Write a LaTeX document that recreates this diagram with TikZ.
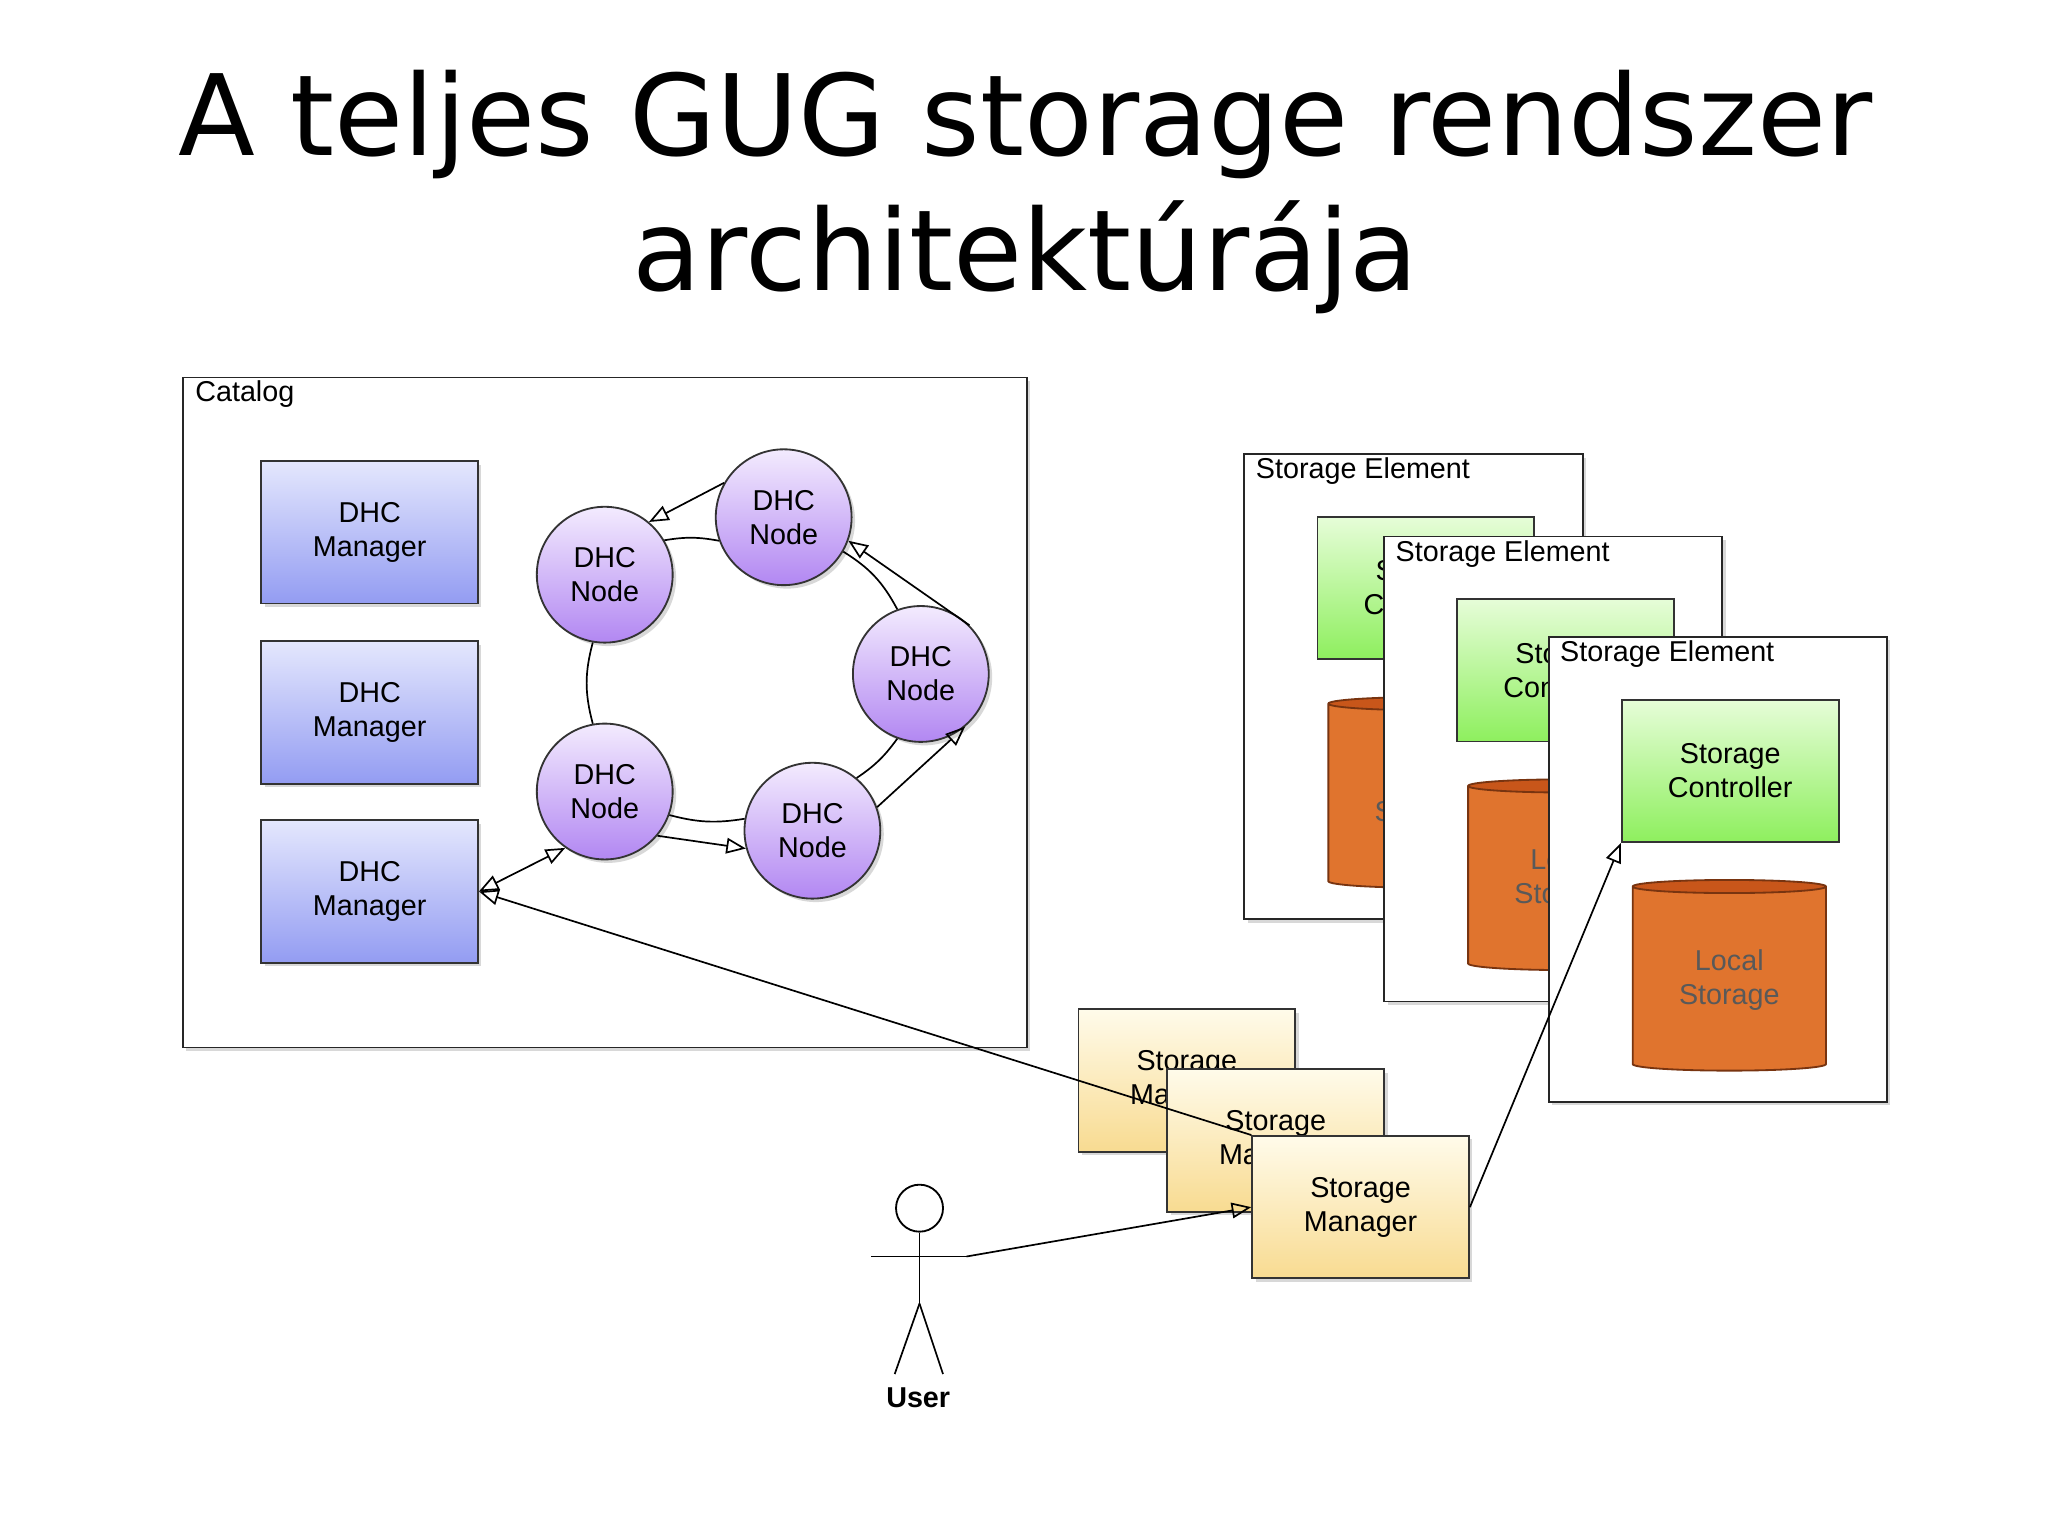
\documentclass[tikz,border=0pt]{standalone}
\usepackage{fontspec}
\setmainfont{Liberation Sans}
\newfontfamily\titlefont{DejaVu Sans}
\usetikzlibrary{arrows.meta,shapes.geometric,shadows}
\definecolor{mgrA}{HTML}{E4E7FD}\definecolor{mgrB}{HTML}{939CF2}
\definecolor{nodA}{HTML}{F3EBFE}\definecolor{nodB}{HTML}{B287F2}
\definecolor{ctlA}{HTML}{E6FDD8}\definecolor{ctlB}{HTML}{8EEF5E}
\definecolor{smA}{HTML}{FFFBEA}\definecolor{smB}{HTML}{F8DB91}
\definecolor{cylA}{HTML}{C8561A}\definecolor{cylB}{HTML}{E0742E}
\tikzset{
 lbl/.style={font=\fontsize{22}{26}\selectfont, align=center},
 mgr/.style={lbl, draw=black!80, line width=1.4pt, minimum width=166pt, minimum height=109pt, top color=mgrA, bottom color=mgrB, drop shadow={opacity=0.3}},
 dhc/.style={lbl, circle, draw=black!80, line width=1.4pt, minimum size=104pt, inner sep=0pt, top color=nodA, bottom color=nodB, drop shadow={opacity=0.3}},
 ctl/.style={lbl, draw=black!80, line width=1.4pt, minimum width=166pt, minimum height=109pt, top color=ctlA, bottom color=ctlB},
 sm/.style={lbl, draw=black!80, line width=1.4pt, minimum width=166pt, minimum height=109pt, top color=smA, bottom color=smB, drop shadow={opacity=0.3}},
 sebox/.style={draw=black!85, line width=1.4pt, fill=white, minimum width=259pt, minimum height=356pt, drop shadow={opacity=0.3}},
 cyl/.style={lbl, cylinder, shape border rotate=90, draw=cylA!60!black, line width=1.4pt, minimum width=148pt, minimum height=146pt, aspect=0.12, cylinder uses custom fill, cylinder body fill=cylB, cylinder end fill=cylA, text=black!65},
 conn/.style={line width=1.3pt},
 tip/.style={-{Triangle[open,length=15pt,width=12pt]}},
}
\begin{document}
\begin{tikzpicture}[x=1pt,y=-1pt]
\useasboundingbox[fill=white] (0,0) rectangle (1568,1175);
\node[font=\titlefont\fontsize{86}{102}\selectfont] (t1) at (785,95) {A teljes GUG storage rendszer};
\node[font=\titlefont\fontsize{86}{102}\selectfont] (t2) at (785,197) {architektúrája};
% catalog
\node[draw=black!85, line width=1.4pt, fill=white, minimum width=646pt, minimum height=513pt, drop shadow={opacity=0.3}] (cat) at (463,545.5) {};
\node[lbl, anchor=west] (catl) at (146,302) {Catalog};
\node[mgr] (m1) at (283,407.5) {DHC\\Manager};
\node[mgr] (m2) at (283,545.5) {DHC\\Manager};
\node[mgr] (m3) at (283,682.5) {DHC\\Manager};
\node[dhc] (n1) at (463,440) {DHC\\Node};
\node[dhc] (n2) at (600,396) {DHC\\Node};
\node[dhc] (n3) at (705,516) {DHC\\Node};
\node[dhc] (n4) at (463,606) {DHC\\Node};
\node[dhc] (n5) at (622,636) {DHC\\Node};
% ring
\draw[conn] (n1.30) to[bend left=10] (n2.200);
\draw[conn] (n2.330) to[bend left=15] (n3.110);
\draw[conn] (n3.250) to[bend left=10] (n5.50);
\draw[conn] (n5.170) to[bend left=12] (n4.340);
\draw[conn] (n4.100) to[bend left=15] (n1.260);
% arrows
\draw[conn,tip] (n2.150) -- (n1.50);
\draw[conn,tip] (n3.45) -- (n2.340);
\draw[conn,tip] (n5.20) -- (n3.310);
\draw[conn,tip] (n4.320) -- (n5.195);
\draw[conn,{Triangle[open,length=15pt,width=12pt]}-{Triangle[open,length=15pt,width=12pt]}] (m3.east) -- (n4.235);
% storage elements
\foreach \i/\x/\y in {1/952/347,2/1059/410,3/1185/487}{
 \node[sebox, anchor=north west] (se\i) at (\x,\y) {};
 \node[lbl, anchor=west] (sel\i) at (\x+6,\y+14) {Storage Element};
 \node[ctl, anchor=north west] (c\i) at (\x+56,\y+48) {Storage\\Controller};
 \node[cyl, anchor=north] (ls\i) at (\x+139,\y+186) {Local\\Storage};
}
% storage managers
\node[sm, anchor=north west] (s1) at (825,772) {Storage\\Manager};
\node[sm, anchor=north west] (s2) at (893,818) {Storage\\Manager};
\node[sm, anchor=north west] (s3) at (958,869) {Storage\\Manager};
\draw[conn,tip] (s3.north west) -- (m3.east);
\draw[conn,tip] (s3.east) -- (c3.south west);
% user
\node[circle, draw, line width=1.4pt, fill=white, minimum size=36pt, inner sep=0pt] (head) at (704,925) {};
\coordinate (hip) at (704,998);
\coordinate (armL) at (667,962);
\coordinate (armR) at (740,962);
\draw[conn] (head.south) -- (hip);
\draw[conn] (armL) -- (armR);
\draw[conn] (hip) -- (685,1052);
\draw[conn] (hip) -- (722,1052);
\node[font=\bfseries\fontsize{22}{26}\selectfont] (user) at (703,1070) {User};
\draw[conn,tip] (armR) -- (s3.west);
\end{tikzpicture}
\end{document}
